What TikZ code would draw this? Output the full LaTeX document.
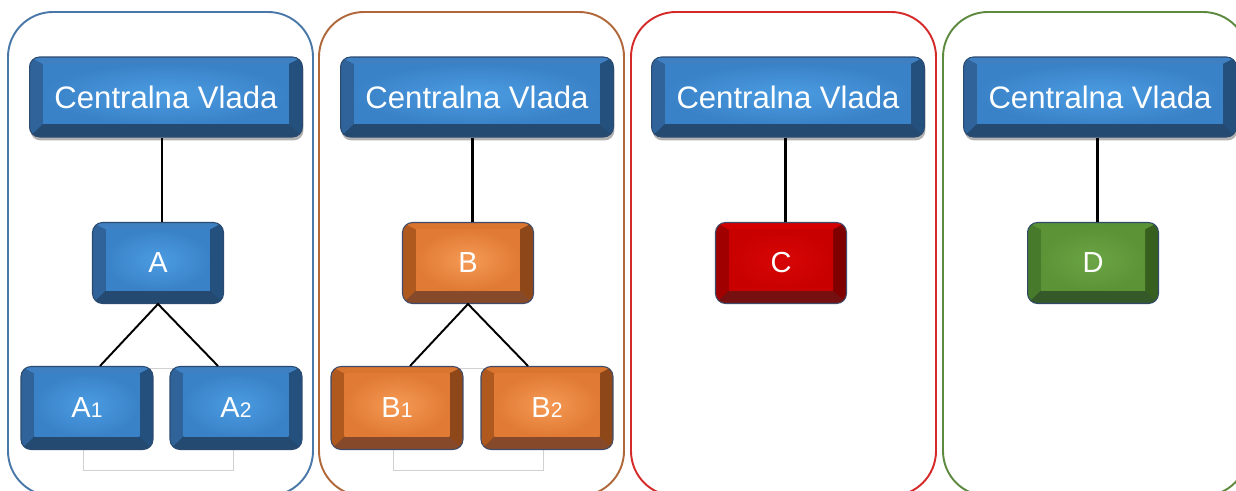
\documentclass[tikz,border=0pt]{standalone}
\usepackage{fontspec}
\setmainfont{Liberation Sans}
\usetikzlibrary{calc,shadows}

\definecolor{panblu}{HTML}{4A78A8}
\definecolor{panbrn}{HTML}{B0683A}
\definecolor{panred}{HTML}{D42A2A}
\definecolor{pangrn}{HTML}{5E8A40}

\definecolor{bluface}{HTML}{3A82C8}
\definecolor{bluhi}{HTML}{4B9CE2}
\definecolor{blutop}{HTML}{3F80C2}
\definecolor{bluside}{HTML}{2F6399}
\definecolor{bluright}{HTML}{24507E}
\definecolor{blubot}{HTML}{244A72}
\definecolor{bluedge}{HTML}{2B4A70}

\definecolor{orgface}{HTML}{E07A34}
\definecolor{orghi}{HTML}{F59A55}
\definecolor{orgtop}{HTML}{D9752F}
\definecolor{orgside}{HTML}{B0591F}
\definecolor{orgright}{HTML}{8E4719}
\definecolor{orgbot}{HTML}{864A2A}
\definecolor{orgedge}{HTML}{3F4B68}

\definecolor{redface}{HTML}{C80000}
\definecolor{redhi}{HTML}{D80606}
\definecolor{redtop}{HTML}{D20000}
\definecolor{redside}{HTML}{A00000}
\definecolor{redright}{HTML}{800000}
\definecolor{redbot}{HTML}{761010}
\definecolor{rededge}{HTML}{3F4B68}

\definecolor{grnface}{HTML}{5B9336}
\definecolor{grnhi}{HTML}{6CA545}
\definecolor{grntop}{HTML}{5A9236}
\definecolor{grnside}{HTML}{477A2A}
\definecolor{grnright}{HTML}{37601F}
\definecolor{grnbot}{HTML}{36592A}
\definecolor{grnedge}{HTML}{2F4A66}

\newcommand\lowdigit[1]{{\fontsize{12}{14}\selectfont #1}}

\tikzset{
  btn/.style={draw=#1edge, line width=0.6pt, fill=#1side, rounded corners=0.2cm,
    inner sep=0pt, text=white,
    path picture={
      \coordinate (pnw) at (path picture bounding box.north west);
      \coordinate (pse) at (path picture bounding box.south east);
      \coordinate (pne) at (pnw -| pse);
      \coordinate (psw) at (pse -| pnw);
      \coordinate (inw) at ($(pnw)+(0.27cm,-0.14cm)$);
      \coordinate (ine) at ($(pne)+(-0.27cm,-0.14cm)$);
      \coordinate (ise) at ($(pse)+(-0.27cm,0.26cm)$);
      \coordinate (isw) at ($(psw)+(0.27cm,0.26cm)$);
      \fill[#1top, sharp corners] (pnw) -- (pne) -- (ine) -- (inw) -- cycle;
      \fill[#1right, sharp corners] (pne) -- (pse) -- (ise) -- (ine) -- cycle;
      \fill[#1bot, sharp corners] (psw) -- (pse) -- (ise) -- (isw) -- cycle;
      \shade[inner color=#1hi, outer color=#1face, sharp corners] (inw) rectangle (ise);
    }},
  topbox/.style={btn=blu, minimum width=5.46cm, minimum height=1.6cm,
    font=\fontsize{17.7}{20}\selectfont,
    drop shadow={shadow xshift=0.02cm, shadow yshift=-0.07cm, opacity=0.3, fill=black}},
  midbox/.style={minimum width=2.62cm, minimum height=1.62cm,
    font=\fontsize{16.5}{18}\selectfont},
  lowbox/.style={minimum width=2.64cm, minimum height=1.66cm,
    font=\fontsize{16.5}{18}\selectfont},
}

\begin{document}
\begin{tikzpicture}[x=0.02cm,y=-0.02cm]
  \useasboundingbox (0,0) rectangle (1236,490);
  \clip (0,0) rectangle (1236,490);
  % panels
  \foreach \x/\col in {8/blu,319/brn,631/red,943/grn}
    \draw[pan\col, line width=1.1pt, rounded corners=0.9cm] (\x,12) rectangle +(305,484);
  % faint frames behind the lower boxes
  \foreach \x in {83,393}
    \draw[black!18, line width=0.4pt] (\x,368) rectangle +(150,102);
  % central government
  \foreach \x/\i in {166/1,477/2,788/3,1100/4}
    \node[topbox] (cv\i) at (\x,97) {Centralna Vlada};
  % second level
  \node[midbox, btn=blu] (a) at (158,263) {A};
  \node[midbox, btn=org] (b) at (468,263) {B};
  \node[midbox, btn=red] (c) at (781,263) {C};
  \node[midbox, btn=grn] (d) at (1093,263) {D};
  % third level
  \node[lowbox, btn=blu] (a1) at (87,408) {A\lowdigit{1}};
  \node[lowbox, btn=blu] (a2) at (236,408) {A\lowdigit{2}};
  \node[lowbox, btn=org] (b1) at (397,408) {B\lowdigit{1}};
  \node[lowbox, btn=org] (b2) at (547,408) {B\lowdigit{2}};
  % connectors
  \foreach \m/\i in {a/1,b/2,c/3,d/4}
    \draw[line width=1.7pt] ([xshift=0.08cm]\m.north) -- ([xshift=0.08cm]\m.north |- cv\i.south);
  \draw[line width=1.1pt] ([xshift=0.26cm]a1.north) -- (a.south) -- ([xshift=-0.36cm]a2.north);
  \draw[line width=1.1pt] ([xshift=0.26cm]b1.north) -- (b.south) -- ([xshift=-0.38cm]b2.north);
\end{tikzpicture}
\end{document}
